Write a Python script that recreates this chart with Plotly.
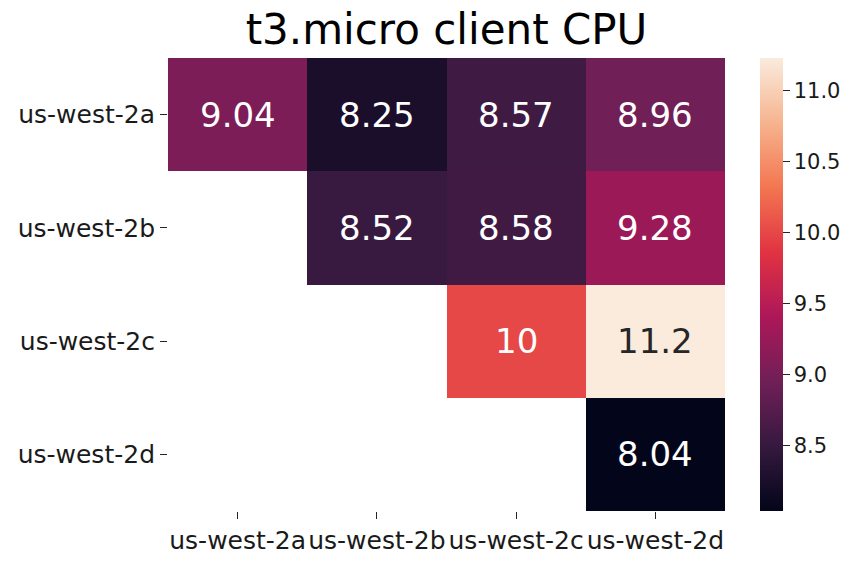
import plotly.graph_objects as go

zones = ["us-west-2a", "us-west-2b", "us-west-2c", "us-west-2d"]
row_2a = [9.04, 8.25, 8.57, 8.96]
row_2b = [None, 8.52, 8.58, 9.28]
row_2c = [None, None, 10.0, 11.23]
row_2d = [None, None, None, 8.04]
z = [row_2a, row_2b, row_2c, row_2d]

rocket = [
    [0.0, "#03051a"],
    [1/7, "#35193e"],
    [2/7, "#701f57"],
    [3/7, "#ad1759"],
    [4/7, "#e13342"],
    [5/7, "#f37651"],
    [6/7, "#f6b48f"],
    [1.0, "#faebdd"],
]

vals = [v for r in z for v in r if v is not None]
zmin, zmax = min(vals), max(vals)

fig = go.Figure(go.Heatmap(
    z=z, x=zones, y=zones, colorscale=rocket, zmin=zmin, zmax=zmax,
    hoverongaps=False,
    colorbar=dict(
        thickness=23, len=1.0, lenmode="fraction", y=0.5, yanchor="middle",
        x=(760 - 168) / 557, xanchor="left", xpad=0, ypad=0, outlinewidth=0,
        ticks="outside", ticklen=7, tickwidth=1.3, tickcolor="#262626",
        tickvals=[8.5, 9.0, 9.5, 10.0, 10.5, 11.0], tickformat=".1f",
        tickfont=dict(family="DejaVu Sans", size=21, color="#1a1a1a"),
    ),
))

annotations = []
for i, row in enumerate(z):
    for j, v in enumerate(row):
        if v is None:
            continue
        frac = (v - zmin) / (zmax - zmin)
        color = "#262626" if frac > 0.85 else "white"
        annotations.append(dict(
            x=zones[j], y=zones[i], text=f"{v:.3g}", showarrow=False,
            font=dict(family="DejaVu Sans", size=34, color=color),
        ))

fig.update_layout(
    width=859, height=565,
    margin=dict(l=168, r=134, t=58, b=54, autoexpand=False),
    paper_bgcolor="white", plot_bgcolor="white",
    title=dict(text="t3.micro client CPU", x=(168 + 725) / 2 / 859, xanchor="center",
               y=1 - 29 / 565, yanchor="middle", yref="container",
               font=dict(family="DejaVu Sans", size=42, color="black")),
    annotations=annotations,
    font=dict(family="DejaVu Sans", color="#1a1a1a"),
)
fig.update_xaxes(showgrid=False, zeroline=False, ticks="outside", ticklen=7, tickwidth=1.3,
                 tickcolor="#262626", tickfont=dict(size=25), showline=False)
fig.update_yaxes(showgrid=False, zeroline=False, ticks="outside", ticklen=7, tickwidth=1.3,
                 tickcolor="#262626", tickfont=dict(size=25), autorange="reversed", showline=False)

fig.write_html("out.html")
